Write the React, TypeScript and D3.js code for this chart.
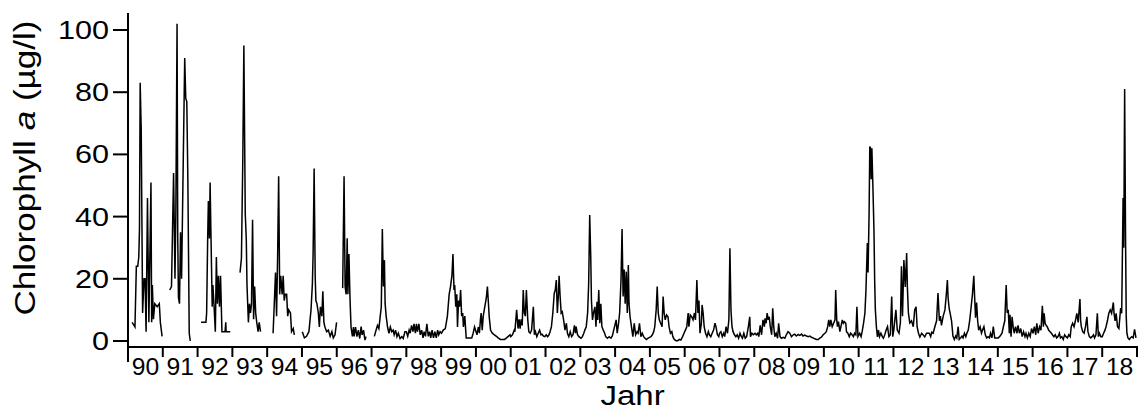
import React from 'react';
import * as d3 from 'd3';

type P = [number, number];

// [fraction of year, chlorophyll a (µg/l)]
const y1990: P[] = [[.12,6],[.2,4.5],[.24,24],[.28,24],[.31,27],[.33,36],[.35,83],[.38,68],[.42,9],[.46,20],[.49,20],[.52,3],[.56,46],[.6,6],[.66,51],[.68,6],[.7,18],[.73,7],[.77,12],[.84,11],[.9,12],[.93,6],[.98,1.5]];
const y1991: P[] = [[.2,16.4],[.25,17.5],[.31,54],[.35,20],[.375,41],[.41,102],[.43,33],[.45,14],[.48,12],[.51,35],[.54,20],[.63,91],[.66,78],[.69,77],[.72,52],[.76,2.5],[.79,0]];
const y1992: P[] = [[.1,6],[.24,6],[.26,9],[.29,33],[.31,45],[.34,33],[.36,51],[.38,37],[.42,11],[.44,18],[.47,12],[.51,3],[.54,27],[.57,12],[.6,21],[.63,11],[.66,21],[.7,3],[.79,3],[.81,6],[.82,3],[.94,3]];
const y1993: P[] = [[.22,22],[.26,26.6],[.3,59],[.33,95],[.37,41],[.4,32.5],[.42,18],[.46,6],[.49,12],[.52,9],[.55,12],[.58,39],[.61,7],[.64,17.5],[.67,9],[.7,6],[.74,3],[.77,6],[.81,3]];
const y1994: P[] = [[.17,2.5],[.24,22],[.27,8],[.3,27],[.33,53],[.36,15],[.39,21],[.43,15],[.46,21],[.49,13],[.52,15],[.56,15],[.59,8],[.62,10],[.67,9],[.7,3],[.75,4],[.78,2]];
const y1995: P[] = [[.01,3],[.07,1],[.13,1.5],[.2,3],[.26,10],[.3,18.5],[.32,28],[.35,55.5],[.38,21],[.4,13],[.43,12],[.47,9],[.5,4.5],[.53,11],[.57,8],[.6,16],[.63,6],[.66,4.5],[.71,3],[.76,3.5],[.81,1.5],[.86,3],[.9,1],[.95,2],[.995,6]];
const y1996: P[] = [[.17,17],[.21,53],[.24,17.5],[.27,15],[.3,33],[.32,15],[.35,28],[.38,14],[.41,4.5],[.45,1.5],[.48,4.5],[.5,1.5],[.54,4.5],[.58,1.4],[.62,3.5],[.66,0.8],[.7,4.6],[.73,2],[.77,3.5],[.81,0.3],[.84,1.4]];
const y1997: P[] = [[.08,1.5],[.13,3.5],[.17,5],[.21,4],[.25,8],[.28,11],[.31,36],[.34,17.5],[.37,26],[.39,12],[.42,8],[.46,4.5],[.5,2.5],[.54,4.5],[.58,3],[.62,3.5],[.65,2],[.69,3.5],[.73,1.4],[.77,2.5],[.82,0.8],[.87,1.4],[.91,0.8],[.96,3]];
const y1998: P[] = [[0,3],[.04,1.5],[.08,3.5],[.11,2.5],[.15,5],[.19,3],[.22,5.5],[.26,2.5],[.29,5.5],[.32,3],[.36,5.5],[.4,2],[.44,3.5],[.48,1],[.51,3],[.55,1.5],[.59,5.5],[.63,1.5],[.67,3],[.7,1],[.74,3.5],[.78,1],[.82,3],[.86,1],[.9,3.5],[.93,2],[.97,3]];
const y1999: P[] = [[.01,2.5],[.06,3.5],[.12,4],[.18,8],[.23,15],[.27,17.5],[.31,21],[.34,28],[.37,16.4],[.39,18],[.42,11],[.45,15],[.47,4.5],[.5,13],[.53,11],[.56,16.4],[.59,8],[.62,9],[.64,4.5],[.68,8],[.72,1],[.78,1],[.84,1],[.88,1],[.92,2.5],[.96,4.5]];
const y2000: P[] = [[.03,2],[.07,4.5],[.1,2.5],[.13,7],[.15,9],[.18,3.5],[.21,8],[.24,10],[.27,12],[.3,14],[.33,17.5],[.36,12],[.38,8],[.42,3.5],[.47,2.5],[.53,2],[.59,1.5],[.64,1],[.7,.5],[.76,.5],[.82,.5],[.88,1],[.93,1.5],[.98,2]];
const y2001: P[] = [[0,1.4],[.05,2],[.1,3.5],[.12,3],[.17,10],[.21,4],[.24,7],[.27,4],[.3,7],[.33,5],[.36,16.4],[.39,9],[.42,8],[.45,16.4],[.49,6.8],[.52,3],[.56,2.5],[.6,3.5],[.65,11],[.68,2],[.71,3],[.75,1.4],[.79,2.5],[.83,3.5],[.87,2],[.9,2.2],[.94,1.6],[.98,1.4]];
const y2002: P[] = [[.02,2],[.06,1.4],[.1,2],[.13,3],[.17,4.6],[.21,9],[.25,15.3],[.28,16.4],[.31,19.6],[.34,9],[.37,14.8],[.39,21],[.42,14.3],[.45,9],[.48,9.4],[.52,6.8],[.56,3.5],[.6,5.7],[.63,2.5],[.67,1.4],[.71,3],[.75,1.4],[.79,2],[.83,5],[.86,2.5],[.88,4.6],[.92,2],[.96,1.4]];
const y2003: P[] = [[.02,.9],[.06,1.4],[.1,2.5],[.13,3.5],[.17,4.6],[.21,9],[.24,18.5],[.27,40.5],[.3,27],[.32,13],[.35,6.8],[.38,9],[.42,11],[.45,4.6],[.48,12.6],[.5,6.8],[.53,16.4],[.56,5.7],[.59,12],[.62,4.6],[.66,3.5],[.7,2.5],[.73,1.4],[.78,.9],[.83,1.4],[.88,.9],[.92,1.6],[.96,3.5]];
const y2004: P[] = [[.03,6.8],[.06,2.5],[.1,5.7],[.13,9],[.17,19.6],[.2,36],[.23,14.3],[.26,23],[.29,12],[.32,22.3],[.35,9],[.38,24.4],[.4,12],[.43,7.8],[.47,4.6],[.51,1.4],[.55,5.7],[.59,2],[.63,3],[.66,2.5],[.7,5.7],[.74,1.4],[.78,2.5],[.82,1.4],[.86,.9],[.9,.5],[.95,.9]];
const y2005: P[] = [[.03,1.4],[.07,2],[.11,3],[.14,4.6],[.18,10],[.21,17.5],[.24,9],[.27,6.8],[.31,5.7],[.35,4.6],[.38,14.3],[.41,9],[.44,6.8],[.48,8.4],[.52,7.8],[.55,4.6],[.59,2.5],[.63,3],[.66,1.4],[.7,.5],[.75,.1],[.8,.1],[.85,.5],[.89,.3],[.94,1.4],[.98,2.5]];
const y2006: P[] = [[.02,3.5],[.06,4.6],[.1,9],[.12,4.6],[.16,8.4],[.2,7.8],[.24,6.8],[.28,9],[.31,6.8],[.35,19.6],[.38,9],[.41,13],[.44,2.5],[.48,5.7],[.5,11.6],[.53,9],[.56,4.6],[.6,2.5],[.64,1.4],[.68,3],[.71,2],[.75,1.4],[.79,2.5],[.83,3.5],[.87,5.7],[.9,4.6],[.94,2],[.98,1.4]];
const y2007: P[] = [[0,2.5],[.04,3],[.08,1.4],[.12,2.5],[.15,1.4],[.19,4.6],[.23,2.5],[.27,6.8],[.3,29.8],[.33,10],[.36,4.6],[.39,3],[.43,2],[.47,1.4],[.51,2],[.55,.9],[.59,2.5],[.63,1.4],[.66,.9],[.7,2.5],[.74,.9],[.78,1.4],[.83,4.6],[.87,7.8],[.89,1.4],[.93,2.5],[.97,2]];
const y2008: P[] = [[.02,2.5],[.06,2],[.1,2.5],[.13,1.4],[.17,5],[.21,2],[.25,6.8],[.29,4.6],[.31,7.3],[.34,5.7],[.37,9],[.4,6.8],[.43,7.8],[.46,4.6],[.5,2],[.53,10.5],[.56,4.6],[.59,1.4],[.63,2.5],[.67,.9],[.7,5.7],[.74,1.4],[.78,.9],[.83,1.2],[.88,.9],[.92,2],[.97,3]];
const y2009: P[] = [[.02,2.5],[.07,1.4],[.12,2],[.16,2.2],[.21,1.6],[.26,2.1],[.31,1.8],[.36,2.2],[.4,1.6],[.45,1.9],[.5,1.6],[.55,1.4],[.6,1.6],[.64,1.2],[.69,1],[.74,.7],[.79,.5],[.84,.5],[.88,.9],[.93,1.2],[.98,2]];
const y2010: P[] = [[.03,2.5],[.07,3],[.11,4.6],[.14,6.8],[.17,4.6],[.2,6.8],[.24,4.6],[.28,5.7],[.32,6.8],[.34,16.4],[.37,6.8],[.39,4.6],[.42,6.2],[.46,3],[.49,4.6],[.53,6.8],[.56,5.7],[.59,6.2],[.63,5.7],[.65,3],[.69,2.5],[.73,1.4],[.77,2.5],[.81,2],[.85,1.4],[.88,2.5],[.92,2],[.95,11],[.98,1.4]];
const y2011: P[] = [[.03,2.5],[.07,1.4],[.1,3],[.14,5.7],[.18,9],[.21,16.4],[.25,31.5],[.27,22],[.3,41],[.32,62.5],[.34,62],[.36,52],[.38,62],[.41,49.5],[.44,35.7],[.46,19.6],[.48,10],[.51,4.5],[.54,1.3],[.57,3.5],[.6,1.4],[.64,2.5],[.68,1.4],[.71,.9],[.75,2],[.79,3.5],[.83,4.6],[.87,1.4],[.91,2],[.95,14.3],[.98,1.4]];
const y2012: P[] = [[.01,3.5],[.07,10],[.11,3.5],[.16,2.5],[.2,6],[.23,24],[.26,8],[.3,26],[.34,17.4],[.38,28.3],[.4,17.4],[.43,9],[.47,5.8],[.52,6.5],[.57,4.6],[.61,10],[.65,11],[.68,4.6],[.72,2.5],[.76,1.3],[.81,2.5],[.85,2],[.9,1.3],[.95,2.5]];
const y2013: P[] = [[.03,2.5],[.07,1.4],[.1,2.8],[.14,2.5],[.19,4.6],[.24,6.5],[.28,15.4],[.32,6.5],[.35,8],[.38,5],[.43,8],[.48,10],[.52,15],[.55,19.6],[.57,14],[.6,10.6],[.63,8.9],[.67,6.5],[.71,1.6],[.75,0.5],[.79,1.6],[.82,1],[.86,4.6],[.89,0.5],[.93,1],[.97,1.6]];
const y2014: P[] = [[0,1],[.04,2.5],[.08,1.4],[.11,2.5],[.15,3.5],[.19,6.5],[.23,10.6],[.27,15],[.31,21],[.33,15],[.36,7.5],[.39,12.4],[.42,6.5],[.45,3.5],[.49,4.6],[.53,2.5],[.56,3.5],[.6,4.6],[.64,2],[.68,1],[.72,1.4],[.76,1],[.79,2.5],[.83,1],[.87,4.6],[.91,1],[.96,1]];
const y2015: P[] = [[.01,1],[.05,1.4],[.09,2],[.12,2.5],[.16,4.6],[.2,6.5],[.24,18],[.27,9],[.3,10],[.33,2.5],[.35,8.4],[.38,1.4],[.41,7.8],[.44,4.6],[.47,2.5],[.51,4.6],[.55,2.5],[.58,5],[.62,2.5],[.66,4],[.7,1.4],[.74,3],[.78,1.4],[.81,2.5],[.85,1],[.89,2.5],[.93,1.4],[.97,4]];
const y2016: P[] = [[.01,2.5],[.05,4.6],[.09,2],[.12,5.7],[.16,2.5],[.2,4.6],[.24,3.5],[.28,11.3],[.31,4.6],[.33,8.9],[.36,5.7],[.39,5],[.42,4.6],[.46,3.5],[.5,3],[.54,2.5],[.57,2],[.61,1.4],[.65,2],[.69,1],[.73,1.4],[.77,2.5],[.8,1],[.84,1.4],[.88,.5],[.92,2],[.96,1.4]];
const y2017: P[] = [[0,1],[.04,2],[.08,1.4],[.11,4.6],[.15,5.7],[.19,4.6],[.23,6.5],[.27,8.9],[.31,6],[.33,9],[.36,13.5],[.38,6.5],[.4,4.6],[.44,3],[.48,2.5],[.52,4.6],[.56,7.8],[.59,3],[.63,1.4],[.67,1],[.71,1.4],[.75,2],[.78,1],[.82,2],[.86,8.9],[.89,1.4],[.92,2.5],[.96,1.4]];
const y2018: P[] = [[0,1.4],[.04,2.5],[.08,3.5],[.11,4.6],[.15,6.5],[.19,8.9],[.23,10],[.27,8.9],[.32,12.4],[.34,8.9],[.37,6.5],[.4,8.9],[.44,4.6],[.48,4],[.53,10.6],[.56,8.9],[.6,46],[.62,30],[.645,81],[.67,35],[.69,8],[.71,2.5],[.74,1],[.78,.5],[.81,1],[.85,1.4],[.89,1],[.93,3.7],[.97,1]];

const separateYears: [number, P[]][] = [
  [1990, y1990], [1991, y1991], [1992, y1992], [1993, y1993],
  [1994, y1994], [1995, y1995], [1996, y1996],
];
const continuousYears: [number, P[]][] = [
  [1997, y1997], [1998, y1998], [1999, y1999], [2000, y2000], [2001, y2001],
  [2002, y2002], [2003, y2003], [2004, y2004], [2005, y2005], [2006, y2006],
  [2007, y2007], [2008, y2008], [2009, y2009], [2010, y2010], [2011, y2011],
  [2012, y2012], [2013, y2013], [2014, y2014], [2015, y2015], [2016, y2016],
  [2017, y2017], [2018, y2018],
];

const yearLabels = ['90','91','92','93','94','95','96','97','98','99','00','01','02','03','04','05','06','07','08','09','10','11','12','13','14','15','16','17','18'];
const yTicks = [0, 20, 40, 60, 80, 100];

export default function App() {
  const x = d3.scaleLinear().domain([1990, 2019]).range([128, 1137]);
  const y = d3.scaleLinear().domain([0, 100]).range([341, 30]);
  const line = d3.line<P>().x(d => x(d[0])).y(d => y(d[1]));
  const toAbs = (yr: number, arr: P[]): P[] => arr.map(([f, v]) => [yr + f, v] as P);
  const segments: P[][] = [
    ...separateYears.map(([yr, arr]) => toAbs(yr, arr)),
    continuousYears.flatMap(([yr, arr]) => toAbs(yr, arr)),
  ];
  const axisY = y(-1.93);
  const font = '"Liberation Sans", Arial, sans-serif';
  const yearTicks = d3.range(1990, 2020);

  return (
    <svg width={1144} height={414} style={{ position: 'absolute', left: 0, top: 0, background: '#fff' }}>
      {segments.map((seg, i) => (
        <path key={i} d={line(seg) || ''} fill="none" stroke="#000" strokeWidth={1.5} strokeLinejoin="miter" />
      ))}
      {/* y axis */}
      <line x1={x(1990)} x2={x(1990)} y1={y(105.5)} y2={axisY + 15} stroke="#000" strokeWidth={2} />
      {yTicks.map(t => (
        <g key={t}>
          <line x1={x(1990) - 15} x2={x(1990)} y1={y(t)} y2={y(t)} stroke="#000" strokeWidth={2} />
          <text transform={`translate(109,${y(t) + 9}) scale(1.2,1)`} textAnchor="end" fontFamily={font} fontSize={25.5} fill="#000">{t}</text>
        </g>
      ))}
      {/* x axis */}
      <line x1={x(1990)} x2={x(2019) + 1} y1={axisY} y2={axisY} stroke="#000" strokeWidth={2} />
      {yearTicks.map(t => (
        <line key={t} x1={x(t)} x2={x(t)} y1={axisY} y2={axisY + 10} stroke="#000" strokeWidth={2} />
      ))}
      {yearLabels.map((lab, i) => (
        <text key={lab} transform={`translate(${x(1990 + i + 0.5)},375) scale(1.05,1)`} textAnchor="middle" fontFamily={font} fontSize={23.5} fill="#000">{lab}</text>
      ))}
      <text transform={`translate(${(x(1990) + x(2019)) / 2},405) scale(1.18,1)`} textAnchor="middle" fontFamily={font} fontSize={28} fill="#000">Jahr</text>
      <text transform="translate(35,168) rotate(-90) scale(1.17,1)" textAnchor="middle" fontFamily={font} fontSize={30} fill="#000">
        Chlorophyll <tspan fontStyle="italic">a</tspan> (µg/l)
      </text>
    </svg>
  );
}
